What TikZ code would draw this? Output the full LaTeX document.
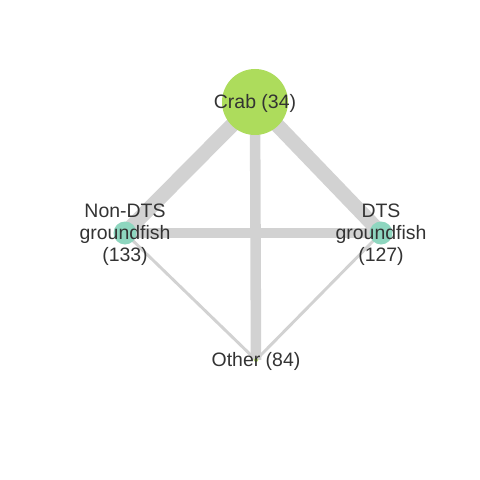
\documentclass[tikz,border=0pt]{standalone}
\usepackage{fontspec}
\setmainfont{Liberation Sans}
\usetikzlibrary{backgrounds}
\definecolor{crabgreen}{HTML}{ADDC5C}
\definecolor{fishteal}{HTML}{8ED6BF}
\definecolor{edgegray}{HTML}{D2D2D2}
\definecolor{labelgray}{HTML}{333333}

\begin{document}
\begin{tikzpicture}[x=0.03cm,y=-0.03cm,
  fishery/.style={circle,inner sep=0pt,draw=none},
  tag/.style={text=labelgray,font=\fontsize{16.6}{18.6}\selectfont,align=center,yshift=-1.6pt},
  link/.style={draw=edgegray,line cap=butt}]
  \useasboundingbox (0,0) rectangle (480,480);
  \node[fishery,fill=crabgreen,minimum size=66*0.03cm] (crab) at (255,102) {};
  \node[fishery,fill=fishteal,minimum size=23*0.03cm] (nondts) at (125,233) {};
  \node[fishery,fill=fishteal,minimum size=23*0.03cm] (dts) at (381,233) {};
  \node[fishery,fill=crabgreen,minimum size=4*0.03cm] (other) at (256,360) {};
  \begin{scope}[on background layer]
    \path[link,line width=12.5pt] (crab.center) -- (nondts.center);
    \path[link,line width=12.5pt] (crab.center) -- (dts.center);
    \path[link,line width=9pt] (crab.center) -- (other.center);
    \path[link,line width=8.5pt] (nondts.center) -- (dts.center);
    \path[link,line width=2.5pt] (nondts.center) -- (other.center);
    \path[link,line width=2.5pt] (dts.center) -- (other.center);
  \end{scope}
  \node[tag] (crablabel) at (crab.center) {Crab (34)};
  \node[tag] (nondtslabel) at (nondts.center) {Non-DTS\\groundfish\\(133)};
  \node[tag] (dtslabel) at (dts.center) {DTS\\groundfish\\(127)};
  \node[tag] (otherlabel) at (other.center) {Other (84)};
\end{tikzpicture}
\end{document}
